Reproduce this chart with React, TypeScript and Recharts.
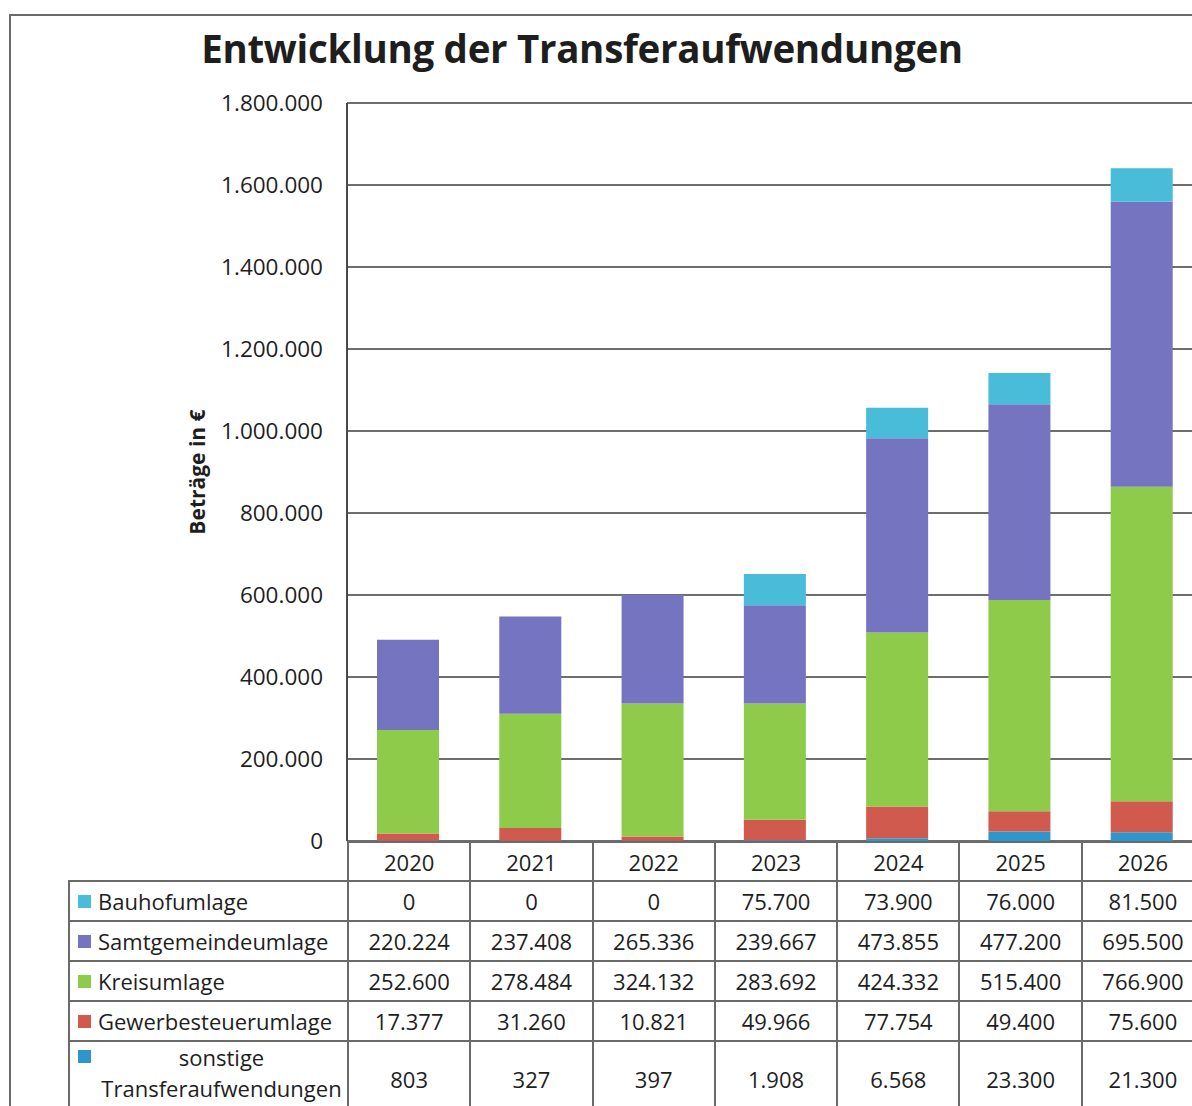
// Entwicklung der Transferaufwendungen - stacked bars + data table

import { BarChart, Bar, XAxis, YAxis, CartesianGrid } from "recharts";

const years = ["2020", "2021", "2022", "2023", "2024", "2025", "2026"];
const bauhofumlage = [0, 0, 0, 75700, 73900, 76000, 81500];
const samtgemeindeumlage = [220224, 237408, 265336, 239667, 473855, 477200, 695500];
const kreisumlage = [252600, 278484, 324132, 283692, 424332, 515400, 766900];
const gewerbesteuerumlage = [17377, 31260, 10821, 49966, 77754, 49400, 75600];
const sonstige = [803, 327, 397, 1908, 6568, 23300, 21300];
const yTicks = [0, 200000, 400000, 600000, 800000, 1000000, 1200000, 1400000, 1600000, 1800000];

// table order top->bottom, stacking order is reversed
const series = [
  { key: "bauhof", label: "Bauhofumlage", values: bauhofumlage, color: "#48bcd8" },
  { key: "samt", label: "Samtgemeindeumlage", values: samtgemeindeumlage, color: "#7474c0" },
  { key: "kreis", label: "Kreisumlage", values: kreisumlage, color: "#8fcb4a" },
  { key: "gewerbe", label: "Gewerbesteuerumlage", values: gewerbesteuerumlage, color: "#d05a4e" },
  { key: "sonstige", label: "sonstige Transferaufwendungen", values: sonstige, color: "#2f96cc" },
];

const chartData = years.map((year, i) => {
  const row: Record<string, string | number> = { year };
  series.forEach((s) => (row[s.key] = s.values[i]));
  return row;
});

const fmt = (v: number) => String(v).replace(/\B(?=(\d{3})+(?!\d))/g, ".");

const FONT = "'Open Sans', 'Liberation Sans', sans-serif";
const LINE = "2px solid #6a6a6a";
const COL_W = 122.3;

export default function App() {
  return (
    <div style={{ position: "relative", width: 1192, height: 1106, overflow: "hidden", background: "#fff", fontFamily: FONT, color: "#1e1e1e" }}>
      <style>{`body{margin:0}`}</style>

      {/* outer frame */}
      <div style={{ position: "absolute", left: 9, top: 14, width: 1400, height: 1200, borderLeft: LINE, borderTop: LINE }} />

      <div style={{ position: "absolute", left: 0, width: 1164, top: 22, textAlign: "center", fontSize: 38.5, fontWeight: 700, letterSpacing: -0.3 }}>
        Entwicklung der Transferaufwendungen
      </div>

      <div style={{ position: "absolute", left: 197, top: 472, transform: "translate(-50%, -50%) rotate(-90deg)", fontSize: 21, fontWeight: 700, whiteSpace: "nowrap" }}>
        Beträge in €
      </div>

      <div style={{ position: "absolute", left: 0, top: 0 }}>
        <BarChart
          width={1220}
          height={860}
          data={chartData}
          barSize={62}
          margin={{ top: 103, right: 17, bottom: 19, left: 227 }}
        >
          <CartesianGrid vertical={false} stroke="#6e6e6e" strokeWidth={2} />
          <XAxis dataKey="year" hide />
          <YAxis
            width={120}
            domain={[0, 1800000]}
            ticks={yTicks}
            tickFormatter={fmt}
            tickLine={false}
            tickSize={0}
            tickMargin={24}
            axisLine={{ stroke: "#4a4a4a", strokeWidth: 2 }}
            tick={{ fontSize: 22.5, fill: "#1e1e1e", fontFamily: FONT }}
            interval={0}
          />
          {[...series].reverse().map((s) => (
            <Bar key={s.key} dataKey={s.key} stackId="a" fill={s.color} isAnimationActive={false} />
          ))}
        </BarChart>
      </div>

      {/* data table */}
      <table
        style={{
          position: "absolute",
          left: 68,
          top: 841,
          borderCollapse: "collapse",
          tableLayout: "fixed",
          fontFamily: FONT,
          fontSize: 22,
          width: 279 + COL_W * 7,
        }}
      >
        <colgroup>
          <col style={{ width: 279 }} />
          {years.map((y) => (
            <col key={y} style={{ width: COL_W }} />
          ))}
        </colgroup>
        <tbody>
          <tr style={{ height: 39 }}>
            <td style={{ borderBottom: LINE }} />
            {years.map((y) => (
              <td key={y} style={{ border: LINE, textAlign: "center", padding: 0 }}>
                {y}
              </td>
            ))}
          </tr>
          {series.map((s, r) => {
            const last = r === series.length - 1;
            return (
              <tr key={s.key} style={{ height: last ? 76 : 40 }}>
                <td style={{ border: LINE, padding: "0 2px 0 8px", verticalAlign: last ? "top" : "middle" }}>
                  <div style={{ display: "flex", alignItems: last ? "flex-start" : "center" }}>
                    <span style={{ width: 13, height: 13, background: s.color, flex: "none", marginRight: 7, marginTop: last ? 8 : 0 }} />
                    <span style={{ flex: 1, textAlign: last ? "center" : "left", lineHeight: last ? "31px" : "normal", whiteSpace: "nowrap" }}>
                      {last ? (
                        <>
                          sonstige
                          <br />
                          Transferaufwendungen
                        </>
                      ) : (
                        s.label
                      )}
                    </span>
                  </div>
                </td>
                {s.values.map((v, i) => (
                  <td key={i} style={{ border: LINE, textAlign: "center", padding: 0 }}>
                    {fmt(v)}
                  </td>
                ))}
              </tr>
            );
          })}
        </tbody>
      </table>
    </div>
  );
}
